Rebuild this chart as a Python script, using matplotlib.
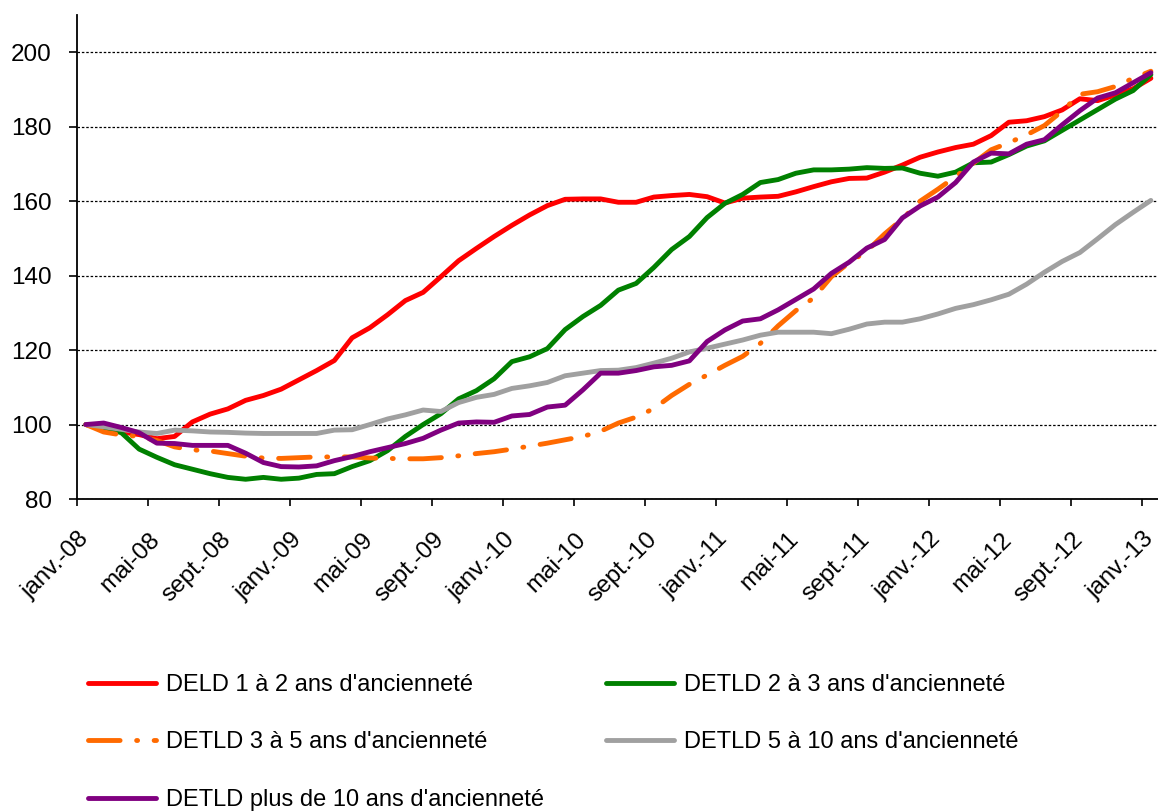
import numpy as np
import matplotlib
matplotlib.use("Agg")
import matplotlib.pyplot as plt
import matplotlib.transforms as mtransforms
from matplotlib.ticker import FixedLocator

# -----------------------------------------------------------------------------
# Data (index 100 = janv.-08), monthly, janv.-08 .. janv.-13
# -----------------------------------------------------------------------------

tick_labels = ["janv.-08", "mai-08", "sept.-08",
               "janv.-09", "mai-09", "sept.-09",
               "janv.-10", "mai-10", "sept.-10",
               "janv.-11", "mai-11", "sept.-11",
               "janv.-12", "mai-12", "sept.-12",
               "janv.-13"]

deld_1_2 = [100, 99.0, 98.0, 97.3, 96.2, 96.8, 100.7, 102.8, 104.2, 106.5,
            107.8, 109.5, 112.0, 114.5, 117.2, 123.3, 126.0, 129.5, 133.3, 135.5,
            139.7, 144.0, 147.3, 150.5, 153.5, 156.3, 158.8, 160.5, 160.6, 160.6,
            159.7, 159.7, 161.1, 161.5, 161.8, 161.2, 159.5, 160.8, 161.1, 161.3,
            162.5, 163.9, 165.2, 166.1, 166.2, 167.8, 169.7, 171.8, 173.2, 174.4,
            175.3, 177.6, 181.2, 181.6, 182.7, 184.5, 187.5, 187.0, 188.5, 190.2,
            193.0]

detld_2_3 = [100, 99.2, 97.8, 93.4, 91.2, 89.2, 88.0, 86.8, 85.8, 85.3,
             85.8, 85.3, 85.6, 86.6, 86.8, 88.7, 90.3, 93.0, 96.8, 100.0,
             102.9, 106.9, 109.1, 112.3, 116.9, 118.2, 120.4, 125.5, 129.0, 132.0,
             136.1, 137.9, 142.2, 147.0, 150.5, 155.6, 159.4, 161.8, 165.0, 165.8,
             167.5, 168.4, 168.4, 168.6, 169.0, 168.8, 168.9, 167.5, 166.7, 167.8,
             170.3, 170.5, 172.5, 174.8, 176.2, 179.0, 181.8, 184.6, 187.4, 189.7,
             194.0]

detld_3_5 = [100, 98.0, 97.2, 96.8, 95.7, 94.0, 93.2, 92.9, 92.2, 91.5,
             91.0, 90.9, 91.1, 91.3, 91.3, 91.3, 91.0, 90.9, 90.8, 90.8,
             91.1, 91.6, 92.2, 92.7, 93.4, 94.2, 95.0, 95.9, 96.8, 98.2,
             100.4, 102.0, 104.3, 107.8, 110.8, 113.3, 115.9, 118.3, 121.8, 126.5,
             130.6, 134.0, 139.7, 143.5, 146.6, 151.2, 155.2, 160.0, 163.2, 166.6,
             170.2, 173.8, 175.7, 177.8, 180.3, 184.2, 188.7, 189.4, 190.8, 193.0,
             194.9]

detld_5_10 = [100, 99.4, 98.7, 98.0, 97.6, 98.5, 98.3, 98.0, 97.9, 97.7,
              97.6, 97.6, 97.6, 97.6, 98.5, 98.6, 100.0, 101.5, 102.6, 103.9,
              103.5, 105.9, 107.3, 108.1, 109.7, 110.4, 111.3, 113.1, 113.8, 114.5,
              114.6, 115.3, 116.5, 117.8, 119.5, 120.5, 121.6, 122.7, 124.0, 124.8,
              124.8, 124.8, 124.4, 125.6, 127.0, 127.5, 127.5, 128.4, 129.7, 131.2,
              132.2, 133.5, 135.0, 137.7, 140.9, 143.8, 146.2, 149.9, 153.7, 157.0,
              160.2]

detld_10p = [100, 100.4, 99.2, 97.8, 95.0, 94.9, 94.4, 94.4, 94.4, 92.3,
             89.8, 88.7, 88.6, 88.9, 90.3, 91.4, 92.7, 93.8, 94.9, 96.3,
             98.5, 100.4, 100.7, 100.6, 102.3, 102.7, 104.7, 105.2, 109.3, 113.8,
             113.8, 114.5, 115.5, 115.9, 117.1, 122.3, 125.4, 127.8, 128.4, 130.8,
             133.6, 136.4, 140.6, 143.6, 147.4, 149.7, 155.5, 158.7, 161.1, 165.0,
             170.5, 172.9, 172.7, 175.3, 176.5, 180.5, 184.3, 187.7, 189.1, 191.8,
             194.5]

labels = ["DELD 1 à 2 ans d'ancienneté",
          "DETLD 2 à 3 ans d'ancienneté",
          "DETLD 3 à 5 ans d'ancienneté",
          "DETLD 5 à 10 ans d'ancienneté",
          "DETLD plus de 10 ans d'ancienneté"]

colors = ["#FF0000", "#008000", "#FF6A00", "#A0A0A0", "#800080"]

# -----------------------------------------------------------------------------
# matplotlib style
# -----------------------------------------------------------------------------

plt.rcParams.update({
    "font.family": ["Liberation Sans", "DejaVu Sans"],
    "font.size": 17,
})

W, H = 1158, 811
fig = plt.figure(figsize=(W / 100, H / 100), dpi=100)
ax = fig.add_axes([77 / W, (H - 499) / H, 61 * 17.75 / W, (499 - 15) / H])

x = np.arange(len(deld_1_2))
series = [deld_1_2, detld_2_3, detld_3_5, detld_5_10, detld_10p]
handles = []
for vals, lab, col in zip(series, labels, colors):
    if col == "#FF6A00":
        ln, = ax.plot(x, vals, color=col, lw=3.5, label=lab,
                      dashes=(6.5, 3.4, 0.2, 3.4), dash_capstyle="round",
                      dash_joinstyle="round")
    else:
        ln, = ax.plot(x, vals, color=col, lw=3.5, label=lab,
                      solid_joinstyle="round", solid_capstyle="round")
    handles.append(ln)

# axes
ax.set_xlim(-0.5, 60.5)
ax.set_ylim(80, 210)
ax.set_yticks(np.arange(80, 201, 20))
ax.yaxis.grid(True, color="black", lw=0.9, dashes=(2, 1.5))
ax.set_axisbelow(True)

ax.set_xticks(np.arange(0, 61, 4))
ax.set_xticklabels(tick_labels, rotation=45, ha="right", va="top",
                   rotation_mode="anchor")
ax.xaxis.set_minor_locator(FixedLocator(np.arange(-0.5, 61, 4)))
ax.tick_params(axis="x", which="major", length=0, pad=21, labelsize=17.5)
ax.tick_params(axis="x", which="minor", length=5, width=1.2, direction="out")
ax.tick_params(axis="y", length=6, width=1.2, direction="out", pad=12,
               labelsize=17.5)

# nudge x labels a little to the left
shift = mtransforms.ScaledTranslation(-8 / 100, 0, fig.dpi_scale_trans)
for lbl in ax.get_xticklabels():
    lbl.set_transform(lbl.get_transform() + shift)

for side in ["top", "right"]:
    ax.spines[side].set_visible(False)
for side in ["left", "bottom"]:
    ax.spines[side].set_linewidth(1.3)

# legend (row-wise order: red, green / orange, gray / purple)
order = [0, 2, 4, 1, 3]
leg = fig.legend([handles[i] for i in order], [labels[i] for i in order],
                 loc="upper left", bbox_to_anchor=(88 / W, (H - 674) / H),
                 ncol=2, frameon=False, fontsize=17, handlelength=2.9,
                 handletextpad=0.42, columnspacing=2.6, labelspacing=1.5,
                 borderpad=0, borderaxespad=0)

fig.savefig("out.png", dpi=100)
